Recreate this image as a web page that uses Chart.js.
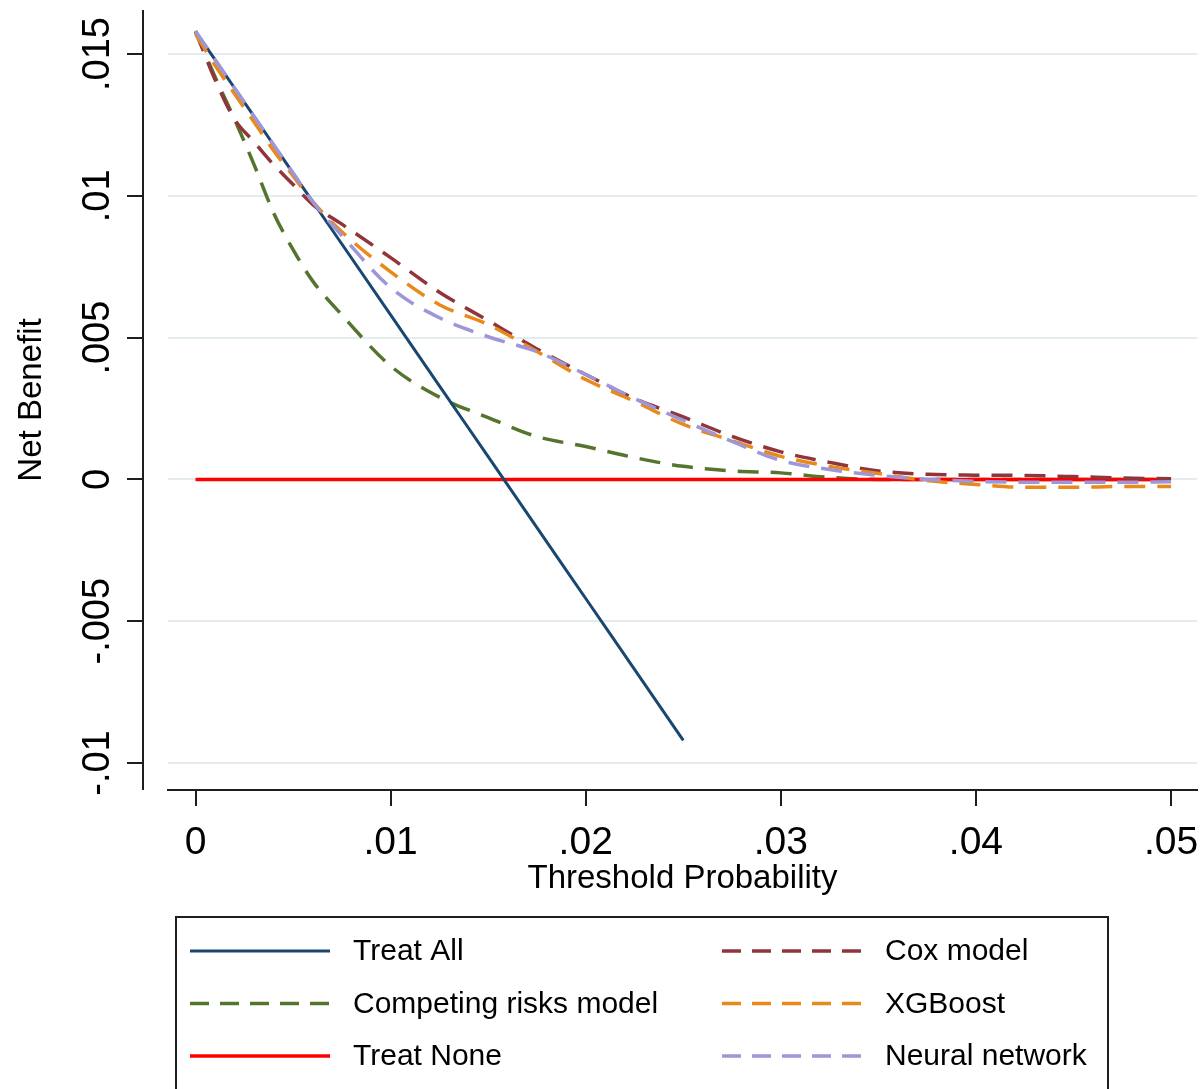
<!DOCTYPE html>
<html>
<head>
<meta charset="utf-8">
<title>Decision curves</title>
<script src="https://cdn.jsdelivr.net/npm/chart.js@4.4.1/dist/chart.umd.min.js"></script>
<style>
  html, body { margin: 0; padding: 0; background: #fff; }
  #wrap { width: 1204px; height: 1089px; }
</style>
</head>
<body>
<div id="wrap"><canvas id="dca"></canvas></div>
<script>
// threshold probabilities the net benefit was evaluated at
const thresholds = [0, 0.001, 0.002, 0.003, 0.004, 0.005, 0.006, 0.0075, 0.01, 0.0125, 0.015, 0.0175,
                    0.02, 0.0225, 0.025, 0.0275, 0.03, 0.0325, 0.035, 0.0375, 0.04, 0.0425, 0.045, 0.0475, 0.05]

// net benefit per strategy (treat all is only drawn up to .025)
const treatAll   = [0.0158, 0.0148, 0.0138, 0.0128, 0.0118, 0.0108, 0.0098, 0.0083, 0.0058, 0.0033, 0.0008, -0.0017,
                    -0.0042, -0.0067, -0.0092, null, null, null, null, null, null, null, null, null, null]
const competing  = [0.0158, 0.0142, 0.0127, 0.0111, 0.0094, 0.0081, 0.0070, 0.0058, 0.0040, 0.0029, 0.00218, 0.00151,
                    0.00116, 0.00077, 0.00046, 0.0003, 0.00023, 0.00007, 0, 0, 0, 0, 0, 0, 0]
const treatNone  = [0, 0, 0, 0, 0, 0, 0, 0, 0, 0, 0, 0, 0, 0, 0, 0, 0, 0, 0, 0, 0, 0, 0, 0, 0]
const coxModel   = [0.0158, 0.0141, 0.0127, 0.0119, 0.0111, 0.0104, 0.0097, 0.0090, 0.00782, 0.0066, 0.0056, 0.0046,
                    0.0037, 0.00285, 0.0022, 0.00152, 0.00097, 0.0006, 0.0003, 0.00018, 0.00015, 0.00014, 0.0001, 0.00005, 0.00002]
const xgboost    = [0.0157, 0.0146, 0.0136, 0.0126, 0.0116, 0.0107, 0.0098, 0.00873, 0.00732, 0.00616, 0.00546, 0.00451,
                    0.00352, 0.00275, 0.00194, 0.00137, 0.00081, 0.00046, 0.00021, -0.00004, -0.00018, -0.00028, -0.00028, -0.00025, -0.00025]
const neuralNet  = [0.0158, 0.0148, 0.0138, 0.0128, 0.0118, 0.0108, 0.0098, 0.0086, 0.00676, 0.0057, 0.00503, 0.0045,
                    0.0037, 0.00285, 0.00208, 0.00134, 0.00067, 0.00035, 0.00014, 0, -0.00007, -0.0001, -0.0001, -0.0001, -0.00008]

const xTicks      = [0, 0.01, 0.02, 0.03, 0.04, 0.05]
const xTickLabels = ["0", ".01", ".02", ".03", ".04", ".05"]
const yTicks      = [-0.01, -0.005, 0, 0.005, 0.01, 0.015]
const yTickLabels = ["-.01", "-.005", "0", ".005", ".01", ".015"]

const FONT = '"Liberation Sans", Arial, sans-serif'
const AXIS = "#1e1e1e"
const DASH = [21, 12]

const pts = (vals) => thresholds.map((x, i) => ({ x, y: vals[i] }))

const line = (label, vals, color, dashed, width, order) => ({
  label,
  data: pts(vals),
  borderColor: color,
  borderWidth: width,
  borderDash: dashed ? DASH : [],
  pointRadius: 0,
  fill: false,
  cubicInterpolationMode: "monotone",
  spanGaps: false,
  order,
})

// y axis sits a little left of the plot region, like Stata draws it
const yAxisRule = {
  id: "yAxisRule",
  afterDraw(chart) {
    const { ctx, chartArea, scales: { y } } = chart
    const ax = chartArea.left - 25
    ctx.save()
    ctx.strokeStyle = AXIS
    ctx.lineWidth = 2
    ctx.beginPath()
    ctx.moveTo(ax, chartArea.top)
    ctx.lineTo(ax, chartArea.bottom)
    y.ticks.forEach(t => {
      const py = Math.round(y.getPixelForValue(t.value))
      ctx.moveTo(ax - 16, py)
      ctx.lineTo(ax, py)
    })
    ctx.stroke()
    ctx.restore()
  },
}

// boxed two-column legend under the plot
const boxLegend = {
  id: "boxLegend",
  afterDraw(chart) {
    const { ctx } = chart
    ctx.save()
    ctx.strokeStyle = AXIS
    ctx.lineWidth = 2
    ctx.strokeRect(176, 917, 932, 200)
    ctx.font = "30px " + FONT
    ctx.textBaseline = "middle"
    chart.data.datasets.forEach((ds, i) => {
      const col = Math.floor(i / 3), row = i % 3
      const x = 190 + col * 532
      const y = 951 + row * 52.5
      ctx.strokeStyle = ds.borderColor
      ctx.lineWidth = ds.borderWidth
      ctx.setLineDash(ds.borderDash.length ? [19, 11] : [])
      ctx.beginPath()
      ctx.moveTo(x, y)
      ctx.lineTo(x + 140, y)
      ctx.stroke()
      ctx.setLineDash([])
      ctx.fillStyle = "#000"
      ctx.fillText(ds.label, x + 163, y + 1)
    })
    ctx.restore()
  },
}

Chart.defaults.font.family = FONT
Chart.defaults.color = "#000"

new Chart(document.getElementById("dca"), {
  type: "line",
  data: {
    datasets: [
      line("Treat All", treatAll, "#1a476f", false, 3, 4),
      line("Competing risks model", competing, "#55752f", true, 3.5, 6),
      line("Treat None", treatNone, "#ff0000", false, 3.5, 5),
      line("Cox model", coxModel, "#90353b", true, 3.5, 3),
      line("XGBoost", xgboost, "#e8891a", true, 3.5, 2),
      line("Neural network", neuralNet, "#9d96d8", true, 3.5, 1),
    ],
  },
  options: {
    responsive: true,
    maintainAspectRatio: false,
    animation: false,
    layout: { padding: { top: 10, right: 7, left: 0, bottom: 0 } },
    plugins: { legend: { display: false }, tooltip: { enabled: false } },
    scales: {
      x: {
        type: "linear",
        min: -0.00141,
        max: 0.05133,
        afterBuildTicks: s => { s.ticks = xTicks.map(v => ({ value: v })) },
        afterFit: s => { s.height = 299; s.paddingLeft = 0; s.paddingRight = 0 },
        grid: { drawOnChartArea: false, drawTicks: true, tickLength: 16, color: AXIS, lineWidth: 2 },
        border: { display: true, color: AXIS, width: 2 },
        ticks: {
          callback: (v, i) => xTickLabels[i],
          font: { size: 39 },
          padding: 14,
          maxRotation: 0,
          autoSkip: false,
        },
        title: { display: true, text: "Threshold Probability", font: { size: 33 }, padding: { top: 0, bottom: 190 } },
      },
      y: {
        type: "linear",
        min: -0.010952,
        max: 0.016551,
        afterBuildTicks: s => { s.ticks = yTicks.map(v => ({ value: v })) },
        afterFit: s => { s.width = 168; s.paddingTop = 0; s.paddingBottom = 0 },
        grid: { drawTicks: false, color: "#e4ecee", lineWidth: 2 },
        border: { display: false },
        ticks: {
          callback: (v, i) => yTickLabels[i],
          font: { size: 38 },
          minRotation: 90,
          maxRotation: 90,
          crossAlign: "center",
          padding: 26,
          autoSkip: false,
        },
        title: { display: true, text: "Net Benefit", font: { size: 33 }, padding: { top: 12, bottom: 0 } },
      },
    },
  },
  plugins: [yAxisRule, boxLegend],
})
</script>
</body>
</html>
